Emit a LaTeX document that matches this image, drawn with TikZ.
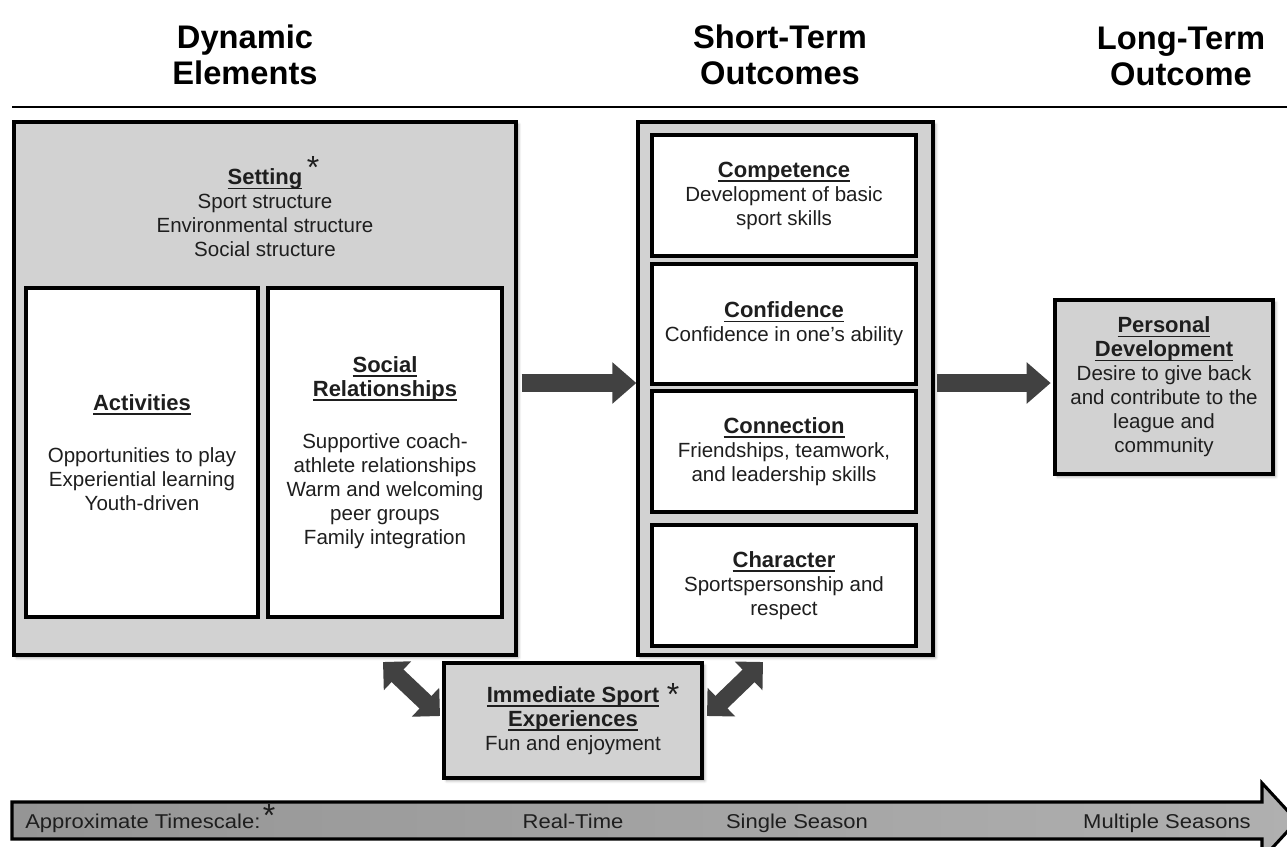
\documentclass[tikz,border=0pt]{standalone}
\usepackage{fontspec}
\usepackage{graphicx}
\setmainfont{Liberation Sans}
\usetikzlibrary{arrows.meta,shadows.blur}

\definecolor{boxgray}{HTML}{D2D2D2}
\definecolor{arrowgray}{HTML}{414141}
\definecolor{inkgray}{HTML}{1E1E1E}
\definecolor{barleft}{HTML}{959595}
\definecolor{barright}{HTML}{B0B0B0}

% bold title with an underline at a fixed distance below the baseline
\newcommand{\ttl}[1]{{\fontsize{16.5}{18}\selectfont\bfseries
  \setbox0\hbox{#1}\rlap{\rule[-3.4pt]{\wd0}{1.2pt}}\box0}}
% slightly widened text on the timescale bar
\newcommand{\wide}[1]{\scalebox{1.1}[1]{#1}}

\tikzset{
  boxbase/.style={draw=black, line width=2.5pt, inner sep=0pt, align=center,
    text=inkgray, font=\fontsize{15.4}{18}\selectfont},
  graybox/.style={boxbase, fill=boxgray,
    blur shadow={shadow xshift=2pt, shadow yshift=-2pt, shadow blur steps=6, shadow opacity=35}},
  whitebox/.style={boxbase, fill=white},
  heading/.style={font=\fontsize{24.5}{26.5}\selectfont\bfseries, align=center, text=black,
    inner sep=0pt, anchor=north},
  txt/.style={align=center, text=inkgray, font=\fontsize{15.4}{18}\selectfont, inner sep=0pt},
  bigarrow/.style={draw=arrowgray, line width=14pt, -{Triangle[length=18pt,width=30pt]}},
  duoarrow/.style={draw=arrowgray, line width=13pt,
    {Triangle[length=15pt,width=29pt]}-{Triangle[length=15pt,width=29pt]}},
  starmark/.style={font=\fontsize{24}{24}\selectfont, inner sep=0pt, text=inkgray},
  scaletxt/.style={font=\fontsize{15}{18}\selectfont, text=inkgray, inner sep=0pt, anchor=base},
}

\begin{document}
\begin{tikzpicture}[x=0.75pt,y=-0.75pt]
\useasboundingbox (0,0) rectangle (1287,846);
\clip (0,0) rectangle (1287,846);

% column headings and rule
\node[heading] (hdyn)   at (245,25)  {Dynamic\\Elements};
\node[heading] (hshort) at (780,25)  {Short-Term\\Outcomes};
\node[heading] (hlong)  at (1181,27) {Long-Term\\Outcome};
\draw[line width=1.5pt] (12,107) -- (1287,107);

% dynamic elements
\node[graybox, minimum width=376.5pt, minimum height=399.75pt] (setting) at (265,388.5) {};
\node[txt] (settingtxt) at (265,213)
  {\ttl{Setting}\\Sport structure\\Environmental structure\\Social structure};
\node[starmark] (settingstar) at (313,167) {*};

\node[whitebox, minimum width=174pt, minimum height=246.75pt] (activities) at (142,452.5)
  {\ttl{Activities}\\[21pt]Opportunities to play\\Experiential learning\\Youth-driven};
\node[whitebox, minimum width=175.5pt, minimum height=246.75pt] (social) at (385,452.5)
  {\ttl{Social}\\\ttl{Relationships}\\[21pt]Supportive coach-\\athlete relationships\\Warm and welcoming\\peer groups\\Family integration};

% short-term outcomes
\node[graybox, minimum width=221.25pt, minimum height=399.75pt] (outcomes) at (785.5,388.5) {};
\node[whitebox, minimum width=198pt, minimum height=90.75pt] (competence) at (784,195.5)
  {\ttl{Competence}\\Development of basic\\sport skills};
\node[whitebox, minimum width=198pt, minimum height=90pt] (confidence) at (784,324)
  {\ttl{Confidence}\\Confidence in one’s ability};
\node[whitebox, minimum width=198pt, minimum height=90.75pt] (connection) at (784,451.5)
  {\ttl{Connection}\\Friendships, teamwork,\\and leadership skills};
\node[whitebox, minimum width=198pt, minimum height=90.75pt] (character) at (784,585.5)
  {\ttl{Character}\\Sportspersonship and\\respect};

% long-term outcome
\node[graybox, minimum width=163.5pt, minimum height=130.5pt] (personal) at (1164,387)
  {\ttl{Personal}\\\ttl{Development}\\Desire to give back\\and contribute to the\\league and\\community};

% immediate sport experiences
\node[graybox, minimum width=193.5pt, minimum height=86.25pt] (immediate) at (573,720.5)
  {\ttl{Immediate Sport}\\\ttl{Experiences}\\Fun and enjoyment};
\node[starmark] (immstar) at (673,694) {*};

% connectors
\coordinate (row) at (0,383);
\draw[bigarrow, shorten <=3pt] (setting.east |- row) -- (outcomes.west |- row);
\draw[bigarrow, shorten <=2pt, shorten >=2pt] (outcomes.east |- row) -- (personal.west |- row);

\coordinate (lefttop) at (383,662);
\coordinate (leftlow) at (440,716);
\coordinate (righttop) at (763,662);
\coordinate (rightlow) at (707,716);
\draw[duoarrow] (lefttop) -- (leftlow);
\draw[duoarrow] (righttop) -- (rightlow);

% timescale bar
\shadedraw[left color=barleft, right color=barright, draw=black, line width=2.3pt, line join=miter]
  (12,802) -- (1262,802) -- (1262,783) -- (1297,821) -- (1262,859) -- (1262,839) -- (12,839) -- cycle;
\node[scaletxt, anchor=base west] (tslabel) at (25,828) {\wide{Approximate Timescale:}};
\node[starmark] (tsstar) at (269,815) {*};
\node[scaletxt] (tsreal)   at (573,828)  {\wide{Real-Time}};
\node[scaletxt] (tssingle) at (797,828)  {\wide{Single Season}};
\node[scaletxt] (tsmulti)  at (1167,828) {\wide{Multiple Seasons}};
\end{tikzpicture}
\end{document}
